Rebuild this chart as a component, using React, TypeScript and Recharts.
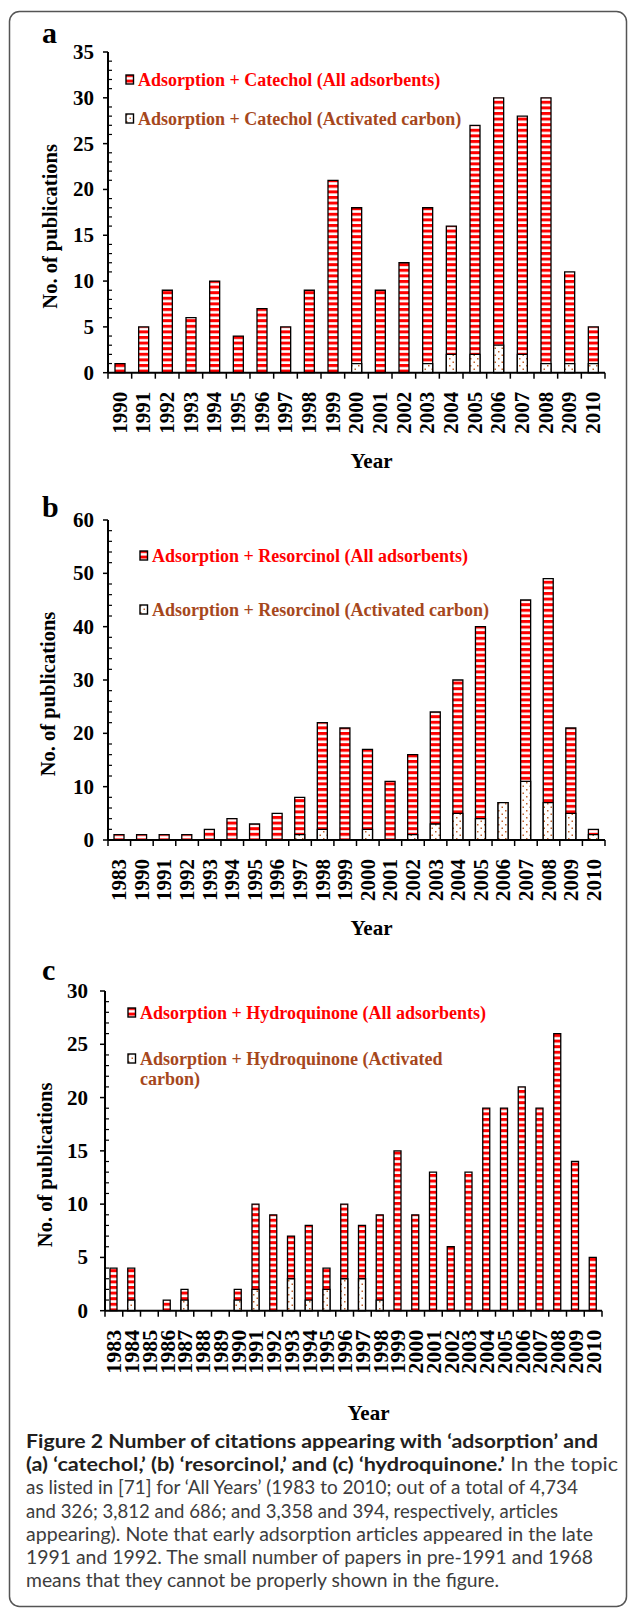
import { BarChart, Bar, XAxis, YAxis, Legend } from "recharts";

// ---- panel a : catechol ----
const yearsA = ["1990", "1991", "1992", "1993", "1994", "1995", "1996", "1997", "1998", "1999", "2000", "2001", "2002", "2003", "2004", "2005", "2006", "2007", "2008", "2009", "2010"];
const allA = [1, 5, 9, 6, 10, 4, 7, 5, 9, 21, 18, 9, 12, 18, 16, 27, 30, 28, 30, 11, 5];
const acA = [0, 0, 0, 0, 0, 0, 0, 0, 0, 0, 1, 0, 0, 1, 2, 2, 3, 2, 1, 1, 1];
const yTicksA = [0, 5, 10, 15, 20, 25, 30, 35];
const namesA = ["Adsorption + Catechol (All adsorbents)", "Adsorption + Catechol (Activated carbon)"];

// ---- panel b : resorcinol ----
const yearsB = ["1983", "1990", "1991", "1992", "1993", "1994", "1995", "1996", "1997", "1998", "1999", "2000", "2001", "2002", "2003", "2004", "2005", "2006", "2007", "2008", "2009", "2010"];
const allB = [1, 1, 1, 1, 2, 4, 3, 5, 8, 22, 21, 17, 11, 16, 24, 30, 40, 7, 45, 49, 21, 2];
const acB = [0, 0, 0, 0, 0, 0, 0, 0, 1, 2, 0, 2, 0, 1, 3, 5, 4, 7, 11, 7, 5, 1];
const yTicksB = [0, 10, 20, 30, 40, 50, 60];
const namesB = ["Adsorption + Resorcinol (All adsorbents)", "Adsorption + Resorcinol (Activated carbon)"];

// ---- panel c : hydroquinone ----
const yearsC = ["1983", "1984", "1985", "1986", "1987", "1988", "1989", "1990", "1991", "1992", "1993", "1994", "1995", "1996", "1997", "1998", "1999", "2000", "2001", "2002", "2003", "2004", "2005", "2006", "2007", "2008", "2009", "2010"];
const allC = [4, 4, 0, 1, 2, 0, 0, 2, 10, 9, 7, 8, 4, 10, 8, 9, 15, 9, 13, 6, 13, 19, 19, 21, 19, 26, 14, 5];
const acC = [0, 1, 0, 0, 1, 0, 0, 1, 2, 0, 3, 1, 2, 3, 3, 1, 0, 0, 0, 0, 0, 0, 0, 0, 0, 0, 0, 0];
const yTicksC = [0, 5, 10, 15, 20, 25, 30];
const namesC = ["Adsorption + Hydroquinone (All adsorbents)", "Adsorption + Hydroquinone (Activated carbon)"];

const captionLines: [string, boolean][][] = [
  [["Figure 2 Number of citations appearing with \u2018adsorption\u2019 and", true]],
  [["(a) \u2018catechol,\u2019 (b) \u2018resorcinol,\u2019 and (c) \u2018hydroquinone.\u2019", true], [" In the topic", false]],
  [["as listed in [71] for \u2018All Years\u2019 (1983 to 2010; out of a total of 4,734", false]],
  [["and 326; 3,812 and 686; and 3,358 and 394, respectively, articles", false]],
  [["appearing). Note that early adsorption articles appeared in the late", false]],
  [["1991 and 1992. The small number of papers in pre-1991 and 1968", false]],
  [["means that they cannot be properly shown in the figure.", false]],
];
const captionWidths = [572, 592, 552, 532, 567, 567, 473];

const SERIF = "'Liberation Serif', 'Times New Roman', serif";
const RED = "#ff0000";
const BROWN = "#a6471c";
const W = 629;

type PanelProps = {
  years: string[];
  all: number[];
  ac: number[];
  majorTicks: number[];
  minorStep: number;
  names: string[];
  top: number;
  height: number;
  plotTop: number;
  plotBottom: number;
  plotLeft: number;
  plotRight: number;
  barSize: number;
  tickGap: number;
  xTickFont: number;
  yLabelX: number;
  yearDy: number;
  legendLeft: number;
  legendTop: number;
  legendGap: number;
  legendWidth: number;
};

function Panel(p: PanelProps) {
  const data = p.years.map((year, i) => ({ year, all: p.all[i], ac: p.ac[i] }));
  const yMax = p.majorTicks[p.majorTicks.length - 1];
  const allTicks: number[] = [];
  for (let v = 0; v <= yMax; v += p.minorStep) allTicks.push(v);

  const axisY = p.plotBottom - p.top;
  const relTop = p.plotTop - p.top;
  const xAxisH = 100;

  const renderYTick = (props: any) => {
    const { y, payload } = props;
    const v = payload.value;
    const ax = p.plotLeft;
    if (p.majorTicks.includes(v)) {
      return (
        <g>
          <line x1={ax - 5} x2={ax} y1={y} y2={y} stroke="#000" strokeWidth={1.5} />
          <text x={ax - p.tickGap} y={y} textAnchor="end" dominantBaseline="central"
            style={{ fontFamily: SERIF, fontWeight: 700, fontSize: 21, fill: "#000" }}>{v}</text>
        </g>
      );
    }
    return <line x1={ax} x2={ax + 4} y1={y} y2={y} stroke="#000" strokeWidth={1.2} />;
  };

  const renderXTick = (props: any) => {
    const { x, payload, index } = props;
    const half = (p.plotRight - p.plotLeft) / p.years.length / 2;
    const ty = axisY + 19;
    return (
      <g>
        <line x1={x - half} x2={x - half} y1={axisY} y2={axisY + 6} stroke="#000" strokeWidth={1.5} />
        {index === p.years.length - 1 && (
          <line x1={x + half} x2={x + half} y1={axisY} y2={axisY + 6} stroke="#000" strokeWidth={1.5} />
        )}
        <text x={x} y={ty} transform={`rotate(-90 ${x} ${ty})`} textAnchor="end" dominantBaseline="central"
          style={{ fontFamily: SERIF, fontWeight: 700, fontSize: p.xTickFont, fill: "#000" }}>{payload.value}</text>
      </g>
    );
  };

  const renderYLabel = (props: any) => {
    const vb = props.viewBox;
    const cy = vb.y + vb.height / 2 + 14;
    return (
      <text x={p.yLabelX} y={cy} transform={`rotate(-90 ${p.yLabelX} ${cy})`} textAnchor="middle" dominantBaseline="central"
        style={{ fontFamily: SERIF, fontWeight: 700, fontSize: 20.5, fill: "#000" }}>No. of publications</text>
    );
  };

  const renderXLabel = (props: any) => {
    const vb = props.viewBox;
    return (
      <text x={vb.x + vb.width / 2 + 15} y={axisY + p.yearDy} textAnchor="middle"
        style={{ fontFamily: SERIF, fontWeight: 700, fontSize: 21, fill: "#000" }}>Year</text>
    );
  };

  const renderLegend = () => (
    <div style={{ display: "flex", flexDirection: "column", gap: p.legendGap }}>
      {p.names.map((n, i) => (
        <div key={n} style={{ display: "flex", alignItems: "flex-start" }}>
          <svg width={11} height={12} style={{ marginTop: 4, marginRight: 2, flex: "none" }}>
            <rect x={1} y={1} width={7.5} height={9} fill={i === 0 ? "url(#stripes)" : "url(#dots)"} stroke="#000" strokeWidth={1.4} />
          </svg>
          <span style={{ fontFamily: SERIF, fontWeight: 700, fontSize: 18, lineHeight: "20px", color: i === 0 ? RED : BROWN, width: p.legendWidth }}>{n}</span>
        </div>
      ))}
    </div>
  );

  return (
    <div style={{ position: "absolute", left: 0, top: p.top, width: W, height: p.height }}>
      <BarChart
        width={W}
        height={p.height}
        data={data}
        barGap={-p.barSize}
        barSize={p.barSize}
        margin={{ top: relTop, right: W - p.plotRight, left: p.plotLeft - 60, bottom: p.height - axisY - xAxisH }}
      >
        <XAxis dataKey="year" height={xAxisH} interval={0} tickLine={false}
          axisLine={{ stroke: "#000", strokeWidth: 2 }} tick={renderXTick}
          label={{ value: "Year", content: renderXLabel }} />
        <XAxis xAxisId="t" dataKey="year" orientation="top" height={0} tick={false} tickLine={false}
          axisLine={{ stroke: "#000", strokeWidth: 1.5 }} />
        <YAxis width={60} domain={[0, yMax]} ticks={allTicks} interval={0} tickLine={false}
          axisLine={{ stroke: "#000", strokeWidth: 2 }} tick={renderYTick}
          label={{ value: "No. of publications", content: renderYLabel }} />
        <YAxis yAxisId="r" orientation="right" width={0} domain={[0, yMax]} tick={false} tickLine={false}
          axisLine={{ stroke: "#000", strokeWidth: 1.5 }} />
        <Legend layout="vertical" align="center" verticalAlign="middle" content={renderLegend}
          wrapperStyle={{ left: p.legendLeft, top: p.legendTop, width: "auto", height: "auto", margin: 0 }} />
        <Bar dataKey="all" name={p.names[0]} fill="url(#stripes)" stroke="#000" strokeWidth={1.3} isAnimationActive={false} />
        <Bar dataKey="ac" name={p.names[1]} fill="url(#dots)" stroke="#000" strokeWidth={1.3} isAnimationActive={false} />
      </BarChart>
    </div>
  );
}

export default function App() {
  return (
    <div style={{ position: "absolute", left: 0, top: 0, width: W, height: 1609, background: "#fff" }}>
      <svg width={0} height={0} style={{ position: "absolute" }}>
        <defs>
          <pattern id="stripes" patternUnits="userSpaceOnUse" width={6} height={5.6}>
            <rect x={0} y={0} width={6} height={5.6} fill="#fff" />
            <rect x={0} y={0} width={6} height={3} fill={RED} />
          </pattern>
          <pattern id="dots" patternUnits="userSpaceOnUse" width={7} height={7}>
            <rect x={0} y={0} width={7} height={7} fill="#fff" />
            <rect x={1} y={1} width={1.5} height={1.5} fill="#c0622b" />
            <rect x={4.5} y={4.5} width={1.5} height={1.5} fill="#c0622b" />
          </pattern>
        </defs>
      </svg>

      <svg width={W} height={1609} style={{ position: "absolute", left: 0, top: 0 }}>
        <rect x={9.5} y={11.5} width={617} height={1595} rx={10} fill="none" stroke="#555" strokeWidth={1.5} />
        <text x={42} y={43} style={{ fontFamily: SERIF, fontWeight: 700, fontSize: 30 }}>a</text>
        <text x={42} y={517} style={{ fontFamily: SERIF, fontWeight: 700, fontSize: 30 }}>b</text>
        <text x={42} y={980} style={{ fontFamily: SERIF, fontWeight: 700, fontSize: 30 }}>c</text>
        {captionLines.map((segs, i) => (
          <text key={i} x={26} y={1448 + i * 23.2} textLength={captionWidths[i]} lengthAdjust="spacingAndGlyphs"
            style={{ fontFamily: "Lato, 'Open Sans', sans-serif", fontSize: 18.5 }}>
            {segs.map(([t, bold], j) => (
              <tspan key={j} style={{ fontWeight: bold ? 700 : 400, fill: bold ? "#231f20" : "#3d3d3d" }}>{t}</tspan>
            ))}
          </text>
        ))}
      </svg>

      <Panel years={yearsA} all={allA} ac={acA} majorTicks={yTicksA} minorStep={1} names={namesA}
        top={0} height={480} plotTop={52} plotBottom={372.7} plotLeft={108} plotRight={605}
        barSize={10} tickGap={14} xTickFont={21} yLabelX={50} yearDy={95} legendLeft={125} legendTop={70} legendGap={19} legendWidth={400} />
      <Panel years={yearsB} all={allB} ac={acB} majorTicks={yTicksB} minorStep={2} names={namesB}
        top={480} height={470} plotTop={520} plotBottom={840} plotLeft={108} plotRight={605}
        barSize={10} tickGap={14} xTickFont={21} yLabelX={48} yearDy={95} legendLeft={139} legendTop={66} legendGap={34} legendWidth={400} />
      <Panel years={yearsC} all={allC} ac={acC} majorTicks={yTicksC} minorStep={1} names={namesC}
        top={950} height={480} plotTop={991} plotBottom={1310.7} plotLeft={105} plotRight={602}
        barSize={7} tickGap={17} xTickFont={22} yLabelX={45} yearDy={109} legendLeft={127} legendTop={53} legendGap={26} legendWidth={356} />
    </div>
  );
}
